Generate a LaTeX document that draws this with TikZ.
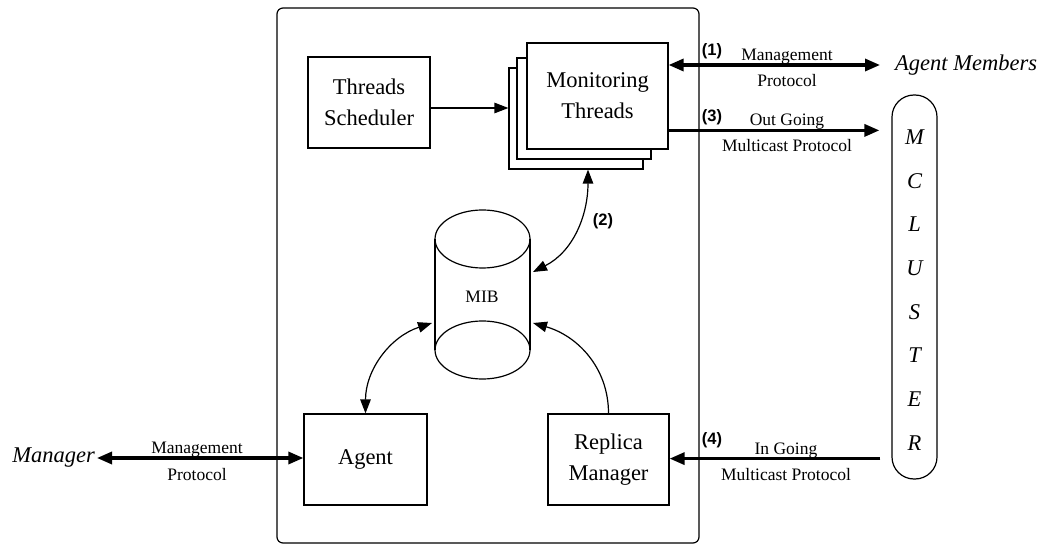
\documentclass[tikz,border=0pt]{standalone}
\usepackage{fontspec}
\setmainfont{Liberation Serif}
\newfontfamily\numfont{Liberation Sans}
\usetikzlibrary{arrows.meta,calc}
\newcommand\bxfont{\fontsize{22.5}{31}\selectfont}
\newcommand\lbfont{\fontsize{17.5}{20}\selectfont}
\newcommand\nbfont{\numfont\bfseries\fontsize{16.5}{18}\selectfont}
\tikzset{
  ltip/.tip={Triangle[length=14pt,width=10.5pt]},
  btip/.tip={Triangle[length=15pt,width=12pt]}
}
\begin{document}
\begin{tikzpicture}[x=1pt,y=-1pt,
  box/.style={draw, line width=1.2pt, fill=white, inner sep=0pt, align=center, font=\bxfont},
  link/.style={line width=1.2pt},
  heavy/.style={line width=3.2pt},
  lbl/.style={font=\lbfont, anchor=base, inner sep=0pt},
  num/.style={font=\nbfont, inner sep=0pt},
  far/.style={font=\bxfont\itshape, inner sep=0pt}
]
\useasboundingbox (0,0) rectangle (1039,545);

% host container
\node[draw, line width=1.2pt, rounded corners=6pt, minimum width=422pt, minimum height=535pt] (host) at (488,275.5) {};

% thread boxes
\node[box, minimum width=122pt, minimum height=91pt] (sched) at (369,102.5) {Threads\\Scheduler};
\node[box, minimum width=134pt, minimum height=101pt] (back) at (576,118.5) {};
\node[box, minimum width=134pt, minimum height=101pt] (mid) at (584,108.5) {};
\node[box, minimum width=141pt, minimum height=106pt] (mon) at (597.5,96) {Monitoring\\Threads};

\node[box, minimum width=123pt, minimum height=91pt] (agent) at (365.5,459.5) {Agent};
\node[box, minimum width=121pt, minimum height=91pt] (replica) at (608.5,459.5) {Replica\\Manager};

% MIB cylinder
\draw[link] (435,239) -- (435,350) (530,239) -- (530,350);
\draw[link] (482.5,239) ellipse [x radius=47.5pt, y radius=29pt];
\draw[link] (482.5,350) ellipse [x radius=47.5pt, y radius=29pt];
\node[lbl] (mib) at (482,303) {MIB};
\coordinate (mibA) at (533,272);
\coordinate (mibB) at (533,323);
\coordinate (mibC) at (432,323);

% cluster column
\node[draw, line width=1.2pt, rounded corners=22pt, minimum width=45pt, minimum height=384pt] (cluster) at (914.5,287) {};
\foreach \l [count=\i from 0] in {M,C,L,U,S,T,E,R}
  \node[far] (cl\i) at (914.5,{137+\i*43.7}) {\l};

% outside parties
\node[far, anchor=west, inner xsep=15pt] (members) at (880,65) {Agent Members};
\node[far, anchor=east, inner xsep=2pt] (manager) at (97,458) {Manager};
\coordinate (c3) at ($(cluster.north west)+(-12,36)$);
\coordinate (c4) at ($(cluster.south west)+(-11,-21)$);
\coordinate (s1) at ($(sched.east)+(0,5.5)$);
\coordinate (m2) at ($(back.south)+(12,0)$);

% connectors
\draw[link, -{ltip}] (s1) -- (s1 -| back.west);
\draw[heavy, {btip}-{btip}] (members.west -| mon.east) -- (members.west);
\draw[heavy, -{btip}] (c3 -| mon.east) -- (c3);
\draw[heavy, -{btip}] (c4) -- (c4 -| replica.east);
\draw[heavy, {btip}-{btip}] (manager.east) -- (manager.east -| agent.west);
\draw[link, {ltip}-{ltip}] (m2) to[out=-90,in=27] (mibA);
\draw[link, {ltip}-{ltip}] (agent.north) to[out=90,in=198] (mibC);
\draw[link, -{ltip}] (replica.north) to[out=90,in=-16] (mibB);

% connector labels
\node[num] (n1) at (712,51) {(1)};
\node[lbl] (t1a) at (787,61) {Management};
\node[lbl] (t1b) at (787,87) {Protocol};
\node[num] (n3) at (712,117.5) {(3)};
\node[lbl] (t3a) at (787,126) {Out Going};
\node[lbl] (t3b) at (787,152) {Multicast Protocol};
\node[num] (n4) at (712,440) {(4)};
\node[lbl] (t4a) at (786,454) {In Going};
\node[lbl] (t4b) at (786,480) {Multicast Protocol};
\node[num] (n2) at (603,221) {(2)};
\node[lbl] (tma) at (197,453) {Management};
\node[lbl] (tmb) at (197,480) {Protocol};
\end{tikzpicture}
\end{document}
